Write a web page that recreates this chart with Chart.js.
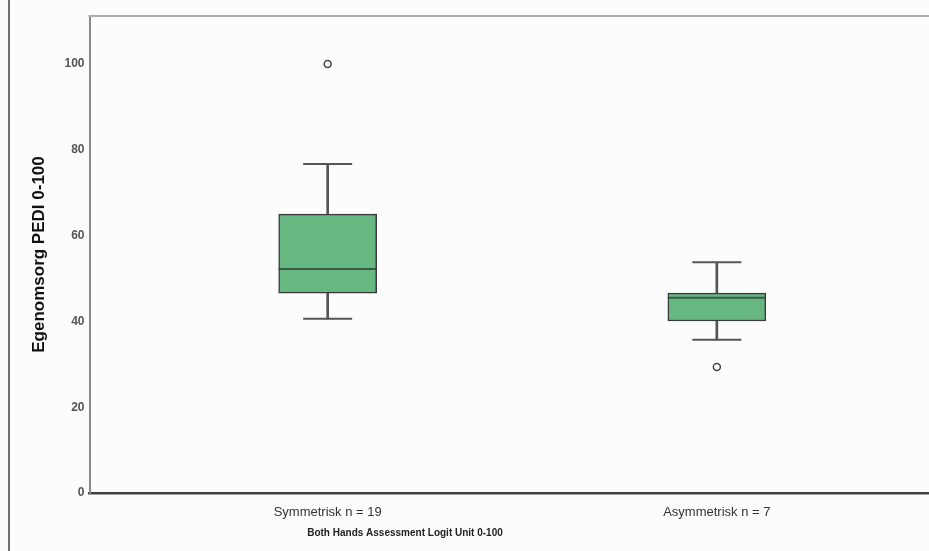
<!DOCTYPE html>
<html>
<head>
<meta charset="utf-8">
<script src="https://cdn.jsdelivr.net/npm/chart.js@4.4.1/dist/chart.umd.min.js"></script>
<style>
  html, body { margin: 0; padding: 0; background: #fcfcfc; overflow: hidden; }
  #wrap { width: 929px; height: 551px; overflow: hidden; }
  #wrap canvas { display: block; }
</style>
</head>
<body>
<div id="wrap"><canvas id="chart" width="970" height="551"></canvas></div>
<script>
  var groups = ['Symmetrisk n = 19', 'Asymmetrisk n = 7'];
  var lowWhisker = [40.6, 35.7];
  var q1 = [46.6, 40.1];
  var median = [52.2, 45.5];
  var q3 = [65.0, 46.6];
  var highWhisker = [76.7, 53.8];
  var outliers = [[100], [29.4]];
  var yTicks = [0, 20, 40, 60, 80, 100];

  var yTitle = 'Egenomsorg PEDI 0-100';
  var xTitle = 'Both Hands Assessment Logit Unit 0-100';
  var fontFamily = '"Liberation Sans", Arial, sans-serif';

  var positions = groups.map((g, i) => i);

  var toPoints = (values) => values.map((v, i) => ({ x: i, y: v }));

  var capPoints = toPoints(lowWhisker).concat(toPoints(highWhisker));
  var outlierPoints = [];
  outliers.forEach((list, i) => {
    list.forEach(v => outlierPoints.push({ x: i, y: v }));
  });

  // frame lines and the x title, drawn after the chart
  var framePlugin = {
    id: 'frame',
    afterDraw(chart) {
      var ctx = chart.ctx;
      var area = chart.chartArea;
      ctx.save();
      ctx.strokeStyle = '#6e6e6e';
      ctx.lineWidth = 2;
      ctx.beginPath();
      ctx.moveTo(9, 0);
      ctx.lineTo(9, chart.height);
      ctx.stroke();

      ctx.strokeStyle = '#ababab';
      ctx.lineWidth = 2;
      ctx.beginPath();
      ctx.moveTo(area.left - 1, area.top);
      ctx.lineTo(chart.width, area.top);
      ctx.stroke();

      ctx.fillStyle = '#222';
      ctx.font = 'bold 10px ' + fontFamily;
      ctx.textAlign = 'center';
      ctx.textBaseline = 'middle';
      ctx.fillText(xTitle, 405, 533);
      ctx.restore();
    }
  };

  var data = {
    datasets: [
      {
        type: 'bar',
        data: positions.map(i => ({ x: i, y: [lowWhisker[i], highWhisker[i]] })),
        backgroundColor: '#555555',
        barThickness: 2,
        grouped: false,
        order: 4
      },
      {
        type: 'bar',
        data: positions.map(i => ({ x: i, y: [q1[i], q3[i]] })),
        backgroundColor: '#66b780',
        borderColor: '#3a3a3a',
        borderWidth: 1.5,
        borderSkipped: false,
        barThickness: 98,
        grouped: false,
        order: 3
      },
      {
        type: 'scatter',
        data: toPoints(median),
        pointStyle: 'line',
        pointRadius: 49,
        pointBorderColor: 'rgba(45,70,52,0.8)',
        pointBorderWidth: 2,
        order: 2
      },
      {
        type: 'scatter',
        data: capPoints,
        pointStyle: 'line',
        pointRadius: 24.5,
        pointBorderColor: '#555555',
        pointBorderWidth: 2,
        order: 1
      },
      {
        type: 'scatter',
        data: outlierPoints,
        pointStyle: 'circle',
        pointRadius: 3.5,
        pointBackgroundColor: '#ffffff',
        pointBorderColor: '#444444',
        pointBorderWidth: 1.5,
        order: 0
      }
    ]
  };

  var options = {
    responsive: false,
    animation: false,
    layout: {
      autoPadding: false,
      padding: { top: 16, left: 29, right: 15, bottom: 0 }
    },
    plugins: {
      legend: { display: false },
      tooltip: { enabled: false }
    },
    scales: {
      x: {
        type: 'linear',
        min: -0.612,
        max: 1.612,
        offset: false,
        grid: { display: false, drawTicks: false },
        border: { color: '#404040', width: 2.5 },
        ticks: {
          padding: 12,
          color: '#333',
          font: { family: fontFamily, size: 13 },
          callback: v => groups[v]
        },
        afterBuildTicks: scale => {
          scale.ticks = positions.map(v => ({ value: v }));
        },
        afterFit: scale => {
          scale.height = 58;
        }
      },
      y: {
        min: 0,
        max: 111.2,
        grid: { display: false, drawTicks: false },
        border: { color: '#888888', width: 2 },
        ticks: {
          padding: 5,
          color: '#555',
          font: { family: fontFamily, size: 12, weight: 'bold' }
        },
        afterBuildTicks: scale => {
          scale.ticks = yTicks.map(v => ({ value: v }));
        },
        title: {
          display: true,
          text: yTitle,
          color: '#111',
          padding: { top: 0, bottom: 0 },
          font: { family: fontFamily, size: 17, weight: 'bold' }
        },
        afterFit: scale => {
          scale.width = 60.5;
        }
      }
    }
  };

  new Chart(document.getElementById('chart').getContext('2d'), {
    type: 'bar',
    data: data,
    options: options,
    plugins: [framePlugin]
  });
</script>
</body>
</html>
